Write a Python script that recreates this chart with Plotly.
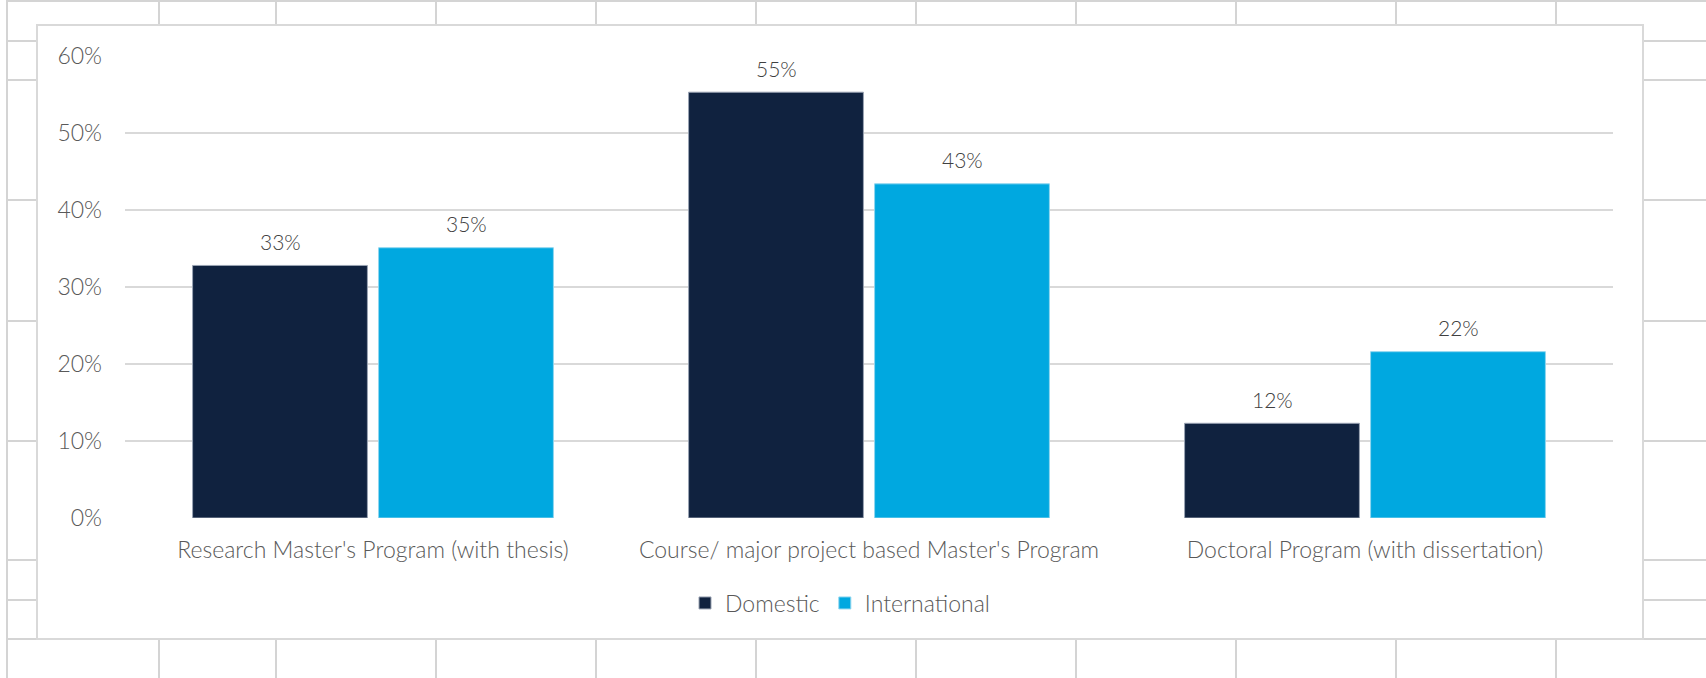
import plotly.graph_objects as go

# data
categories = [
    "Research Master's Program (with thesis)",
    "Course/ major project based Master's Program",
    "Doctoral Program (with dissertation)",
]
domestic = [32.8, 55.3, 12.3]
international = [35.1, 43.4, 21.6]
series_names = ["Domestic", "International"]
y_ticks = [0, 10, 20, 30, 40, 50, 60]
y_tick_labels = [f"{t}%" for t in y_ticks]

W, H = 1706, 678
FONT = "Lato"
GREY = "#595959"
SHEET_LINE = "#d4d4d4"


def px(x):
    return x / W


def py(y):
    return 1 - y / H


fig = go.Figure()
fig.add_trace(go.Bar(
    x=categories, y=domestic, name=series_names[0],
    marker=dict(color="#10223f", line=dict(color="#9aa3b3", width=1)),
))
fig.add_trace(go.Bar(
    x=categories, y=international, name=series_names[1],
    marker=dict(color="#00a8e0", line=dict(color="#8fd6ef", width=1)),
))

# spreadsheet cells behind the chart object
shapes = []
row_lines = [1, 41, 80, 200, 321, 441, 560, 600, 639]
col_lines = [7, 159, 276, 436, 596, 756, 916, 1076, 1236, 1396, 1556]
for y in row_lines:
    shapes.append(dict(type="line", xref="paper", yref="paper", layer="below",
                       x0=px(7), x1=1, y0=py(y), y1=py(y),
                       line=dict(color=SHEET_LINE, width=2)))
for x in col_lines:
    shapes.append(dict(type="line", xref="paper", yref="paper", layer="below",
                       x0=px(x), x1=px(x), y0=0, y1=1,
                       line=dict(color=SHEET_LINE, width=2)))
# chart area
shapes.append(dict(type="rect", xref="paper", yref="paper", layer="below",
                   x0=px(37), x1=px(1643), y0=py(639), y1=py(25),
                   fillcolor="white", line=dict(color="#d9d9d9", width=2)))

# data labels above the bars
slot = (1613 - 125) / 3 * 0.75 / 2
annotations = []
for vals, shift in [(domestic, -slot / 2), (international, slot / 2)]:
    for c, v in zip(categories, vals):
        annotations.append(dict(
            x=c, y=v, xref="x", yref="y", text=f"{v:.0f}%", showarrow=False,
            xshift=shift, yshift=24, yanchor="middle",
            font=dict(family=FONT, size=21, color="#404040", weight=300),
        ))

fig.update_layout(
    width=W, height=H,
    margin=dict(l=0, r=0, t=0, b=0, autoexpand=False),
    paper_bgcolor="white",
    plot_bgcolor="rgba(0,0,0,0)",
    barmode="group", bargap=0.25, bargroupgap=0.06,
    font=dict(family=FONT, size=23, color=GREY, weight=300),
    shapes=shapes,
    annotations=annotations,
    legend=dict(orientation="h", x=px(840), xanchor="center",
                y=py(603), yanchor="middle", itemwidth=30,
                font=dict(family=FONT, size=23, color=GREY, weight=300),
                bgcolor="rgba(0,0,0,0)"),
    xaxis=dict(domain=[px(125), px(1613)], showgrid=False, showline=False,
               automargin=False, ticks="", ticklabelstandoff=16,
               tickfont=dict(family=FONT, size=23, color=GREY, weight=300)),
    yaxis=dict(domain=[py(518), py(56)], range=[0, 60],
               tickmode="array", tickvals=y_ticks, ticktext=y_tick_labels,
               showgrid=True, gridcolor="#d9d9d9", gridwidth=1.5,
               zeroline=False, showline=False, automargin=False,
               ticks="", ticklabelstandoff=22,
               tickfont=dict(family=FONT, size=23, color=GREY, weight=300)),
)

fig.write_html("out.html", config={"displayModeBar": False},
               post_script="document.body.style.margin = '0';")
